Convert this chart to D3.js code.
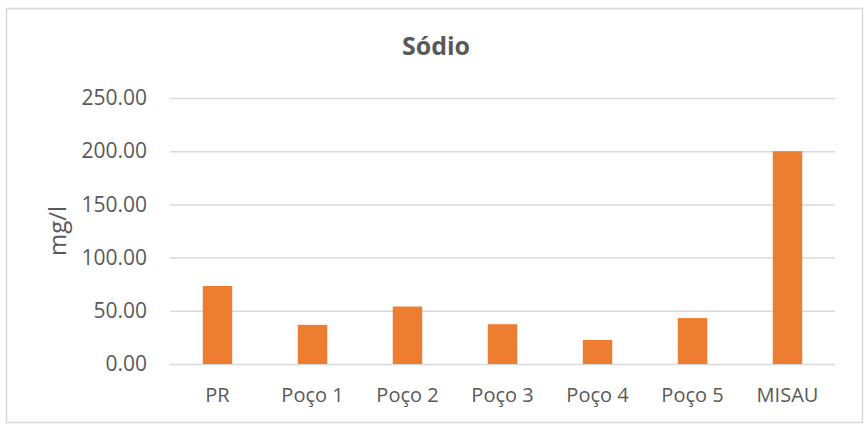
<!DOCTYPE html>
<html>
<head>
<meta charset="utf-8">
<script src="https://cdn.jsdelivr.net/npm/d3@7"></script>
<style>
  body { margin: 0; background: #fff; }
  text { font-family: 'Open Sans', sans-serif; fill: #595959; }
</style>
</head>
<body>
<svg id="chart" width="866" height="428"></svg>
<script>
// chart data
const categories = ['PR', 'Poço 1', 'Poço 2', 'Poço 3', 'Poço 4', 'Poço 5', 'MISAU'];
const values = [73.3, 36.8, 54.0, 37.4, 22.6, 43.2, 200.0];
const yTicks = [0, 50, 100, 150, 200, 250];
const title = 'Sódio';
const yTitle = 'mg/l';

const svg = d3.select('#chart');
const padding = { top: 98, right: 31, bottom: 64, left: 170 };
const width = 866 - padding.left - padding.right;
const height = 428 - padding.top - padding.bottom;

// outer frame
svg.append('rect')
  .attr('x', 6.5).attr('y', 8.5)
  .attr('width', 856).attr('height', 414)
  .attr('fill', '#fff')
  .attr('stroke', '#d9d9d9')
  .attr('stroke-width', 1.5);

const canvas = svg.append('g').attr('transform', `translate(${padding.left}, ${padding.top})`);

const x = d3.scaleBand().domain(categories).range([0, width]).paddingInner(0.69).paddingOuter(0.345);
const y = d3.scaleLinear().domain([0, 250]).range([height, 0]);

// gridlines
const grid = canvas.append('g').attr('class', 'grid')
  .call(d3.axisLeft(y).tickValues(yTicks).tickSize(-width).tickFormat(''));
grid.select('.domain').remove();
grid.selectAll('.tick line').attr('stroke', '#d9d9d9').attr('stroke-width', 1.5);

// y tick labels
const yAxis = canvas.append('g').attr('class', 'axis y')
  .call(d3.axisLeft(y).tickValues(yTicks).tickSize(0).tickPadding(23).tickFormat(d3.format('.2f')));
yAxis.select('.domain').remove();
yAxis.selectAll('text').attr('font-size', 21).attr('fill', '#595959').attr('font-family', 'Open Sans');

// bars
canvas.selectAll('rect.bar')
  .data(values)
  .enter()
  .append('rect')
  .attr('class', 'bar')
  .attr('x', (d, i) => x(categories[i]))
  .attr('width', x.bandwidth())
  .attr('y', d => y(d))
  .attr('height', d => y(0) - y(d))
  .attr('fill', '#ed7d31');

// x labels
const xAxis = canvas.append('g').attr('class', 'axis x')
  .attr('transform', `translate(0, ${height})`)
  .call(d3.axisBottom(x).tickSize(0).tickPadding(24));
xAxis.select('.domain').remove();
xAxis.selectAll('text').attr('font-size', 20).attr('fill', '#595959').attr('font-family', 'Open Sans');

// title
svg.append('text')
  .attr('x', 436).attr('y', 55)
  .attr('text-anchor', 'middle')
  .attr('font-size', 25)
  .attr('font-weight', 700)
  .text(title);

// y axis title
svg.append('text')
  .attr('transform', `translate(66, ${padding.top + height / 2}) rotate(-90)`)
  .attr('text-anchor', 'middle')
  .attr('font-size', 24)
  .text(yTitle);
</script>
</body>
</html>
